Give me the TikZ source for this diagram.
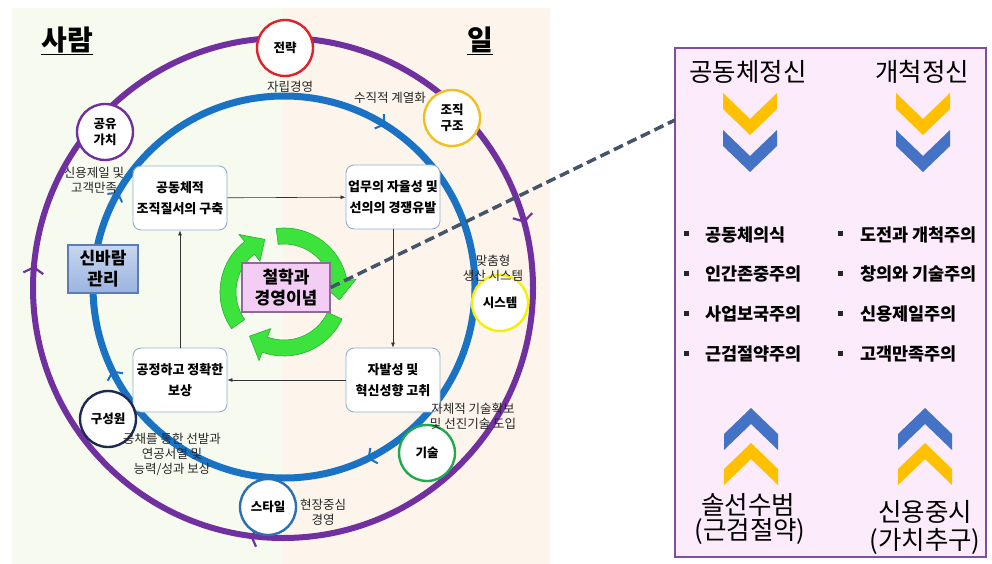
\documentclass[tikz,border=0pt]{standalone}
\usepackage{fontspec}
\setmainfont{Noto Sans CJK KR}
\usetikzlibrary{arrows.meta,decorations.markings}
\definecolor{bgleft}{HTML}{F7FBEF}
\definecolor{bgright}{HTML}{FDF5EB}
\definecolor{cpurple}{HTML}{7030A0}
\definecolor{cblue}{HTML}{1A72C4}
\definecolor{cred}{HTML}{E0202A}
\definecolor{cgold}{HTML}{F0C020}
\definecolor{cyel}{HTML}{F5F000}
\definecolor{cgrn}{HTML}{22A84E}
\definecolor{cnavy}{HTML}{1B2A55}
\definecolor{cstyle}{HTML}{2A6FB5}
\definecolor{boxline}{HTML}{8FB0CF}
\definecolor{gfill}{HTML}{3DE33D}
\definecolor{gdraw}{HTML}{27B02F}
\definecolor{dashc}{HTML}{44546A}
\definecolor{ppink}{HTML}{FCEBFB}
\definecolor{pborder}{HTML}{7F4F9F}
\definecolor{chyel}{HTML}{FFC000}
\definecolor{chblue}{HTML}{4472C4}
\definecolor{cboxfill}{HTML}{F3CDF3}
\definecolor{cboxline}{HTML}{8E6A99}
\definecolor{sbtop}{HTML}{C8D7F0}
\definecolor{sbbot}{HTML}{9AB3E0}
\definecolor{sbline}{HTML}{5D7CB3}
\newcommand\dchev[3]{\fill[#1] ({#2-27},{-#3}) -- (#2,{-#3-26}) -- ({#2+27},{-#3}) -- ({#2+27},{-#3-16}) -- (#2,{-#3-42}) -- ({#2-27},{-#3-16}) -- cycle;}
\newcommand\uchev[3]{\fill[#1] ({#2-27},{-#3}) -- ({#2-27},{-#3+16}) -- (#2,{-#3+42}) -- ({#2+27},{-#3+16}) -- ({#2+27},{-#3}) -- (#2,{-#3+26}) -- cycle;}
\begin{document}
\begin{tikzpicture}[x=1pt,y=1pt,
  sat/.style={circle, minimum size=56pt, inner sep=0pt, fill=white, line width=2.4pt, align=center, font=\bfseries\fontsize{12.5}{16}\selectfont},
  procbox/.style={draw=boxline, fill=white, rounded corners=8pt, line width=0.9pt, minimum width=94pt, minimum height=64pt, align=center, inner sep=0pt, font=\bfseries\fontsize{13}{21}\selectfont},
  conn/.style={-{Latex[length=5pt,width=4pt]}, line width=0.6pt, draw=black!80},
  lbl/.style={inner sep=0pt, align=center, text=black!85, font=\fontsize{12.5}{15}\selectfont},
  bul/.style={inner sep=0pt, anchor=west, font=\bfseries\fontsize{17.5}{20}\selectfont},
  big/.style={inner sep=0pt, align=center, font=\fontsize{25.5}{28}\selectfont}]
\useasboundingbox (0,0) rectangle (992,-564);
\fill[white] (0,0) rectangle (992,-564);
\fill[bgleft] (12,-8) rectangle (283,-564);
\fill[bgright] (283,-8) rectangle (550,-564);
% outer purple circle (clockwise)
\draw[cpurple, line width=6pt, postaction={decorate}, decoration={markings,
  mark=at position 0.271 with {\arrow[cpurple]{Straight Barb[length=6pt,width=20pt,line width=2.2pt]}},
  mark=at position 0.514 with {\arrow[cpurple]{Straight Barb[length=6pt,width=20pt,line width=2.2pt]}},
  mark=at position 0.958 with {\arrow[cpurple]{Straight Barb[length=6pt,width=20pt,line width=2.2pt]}}}]
  (533,-288) arc[start angle=0, end angle=-360, radius=250];
% inner blue circle (clockwise)
\draw[cblue, line width=7pt, postaction={decorate}, decoration={markings,
  mark=at position 0.178 with {\arrow[cblue]{Straight Barb[length=6pt,width=17pt,line width=2pt]}},
  mark=at position 0.428 with {\arrow[cblue]{Straight Barb[length=6pt,width=17pt,line width=2pt]}},
  mark=at position 0.583 with {\arrow[cblue]{Straight Barb[length=6pt,width=17pt,line width=2pt]}},
  mark=at position 0.839 with {\arrow[cblue]{Straight Barb[length=6pt,width=17pt,line width=2pt]}}}]
  (475,-287) arc[start angle=0, end angle=-360, radius=191];
% titles
\node[inner sep=0pt, font=\bfseries\fontsize{28}{30}\selectfont] (saram) at (67,-41) {\underline{사람}};
\node[inner sep=0pt, font=\bfseries\fontsize{28}{30}\selectfont] (il) at (480,-41) {\underline{일}};
% process boxes
\node[procbox] (b1) at (180,-198) {공동체적\\조직질서의 구축};
\node[procbox] (b2) at (393,-197) {업무의 자율성 및\\선의의 경쟁유발};
\node[procbox] (b3) at (180,-380) {공정하고 정확한\\보상};
\node[procbox] (b4) at (393,-380) {자발성 및\\혁신성향 고취};
\draw[conn] (b1) -- (b2);
\draw[conn] (b2) -- (b4);
\draw[conn] (b4) -- (b3);
\draw[conn] (b3) -- (b1);
% green circular arrows
\begin{scope}[shift={(284,-292)}]
\foreach \s/\e in {97/-8, -25/-128, -145/-250} {
  \pgfmathsetmacro\bb{\e+18}
  \filldraw[fill=gfill, draw=gdraw, line width=0.6pt] (\s:64) arc[start angle=\s, end angle=\bb, radius=64] -- (\bb:73) -- (\e:56) -- (\bb:39) -- (\bb:48) arc[start angle=\bb, end angle=\s, radius=48] -- cycle;
}
\end{scope}
% center box
\node[draw=cboxline, fill=cboxfill, line width=1.3pt, minimum width=88pt, minimum height=49pt, inner sep=0pt, align=center, font=\bfseries\fontsize{17}{21}\selectfont] (phil) at (286,-287.5) {철학과\\경영이념};
% sinbaram box
\node[draw=sbline, top color=sbtop, bottom color=sbbot, line width=2pt, minimum width=70pt, minimum height=48pt, inner sep=0pt, align=center, font=\bfseries\fontsize{17}{21}\selectfont] (sinbaram) at (103,-269) {신바람\\관리};
% right panel
\filldraw[fill=ppink, draw=pborder, line width=2pt] (675,-48) rectangle (986,-557);
\coordinate (dashend) at (675,-120);
\draw[dashc, line width=3.5pt, dash pattern=on 10pt off 5pt] (phil.east) -- (dashend);
% satellite circles
\node[sat, draw=cred] (s1) at (285,-48) {전략};
\node[sat, draw=cgold] (s2) at (452,-118) {조직\\구조};
\node[sat, draw=cpurple] (s3) at (105,-132) {공유\\가치};
\node[sat, draw=cyel] (s4) at (500,-303) {시스템};
\node[sat, draw=cgrn] (s5) at (427,-453) {기술};
\node[sat, draw=cstyle] (s6) at (268,-507) {스타일};
\node[sat, draw=cnavy] (s7) at (108,-419) {구성원};
% labels
\node[lbl] (l1) at (290,-87) {자립경영};
\node[lbl] (l2) at (390,-98) {수직적 계열화};
\node[lbl] (l3) at (94,-180) {신용제일 및\\고객만족};
\node[lbl] (l4) at (493,-268) {맞춤형\\생산 시스템};
\node[lbl] (l5) at (473,-416) {자체적 기술확보\\및 선진기술 도입};
\node[lbl] (l6) at (323,-512) {현장중심\\경영};
\node[lbl] (l7) at (172,-454) {공채를 통한 선발과\\연공서열 및\\능력/성과 보상};
% right panel content
\node[big] (t1) at (748,-72) {공동체정신};
\node[big] (t2) at (922,-72) {개척정신};
\dchev{chyel}{750}{93}
\dchev{chblue}{750}{130}
\dchev{chyel}{923}{93}
\dchev{chblue}{923}{130}
\uchev{chblue}{751}{450}
\uchev{chyel}{751}{485}
\uchev{chblue}{925}{450}
\uchev{chyel}{925}{485}
\foreach \yy in {233,273,313,353} {
  \fill[black!85] (683.5,{-\yy+2.5}) rectangle (688.5,{-\yy-2.5});
  \fill[black!85] (837.5,{-\yy+2.5}) rectangle (842.5,{-\yy-2.5});
}
\node[bul] (p1) at (705,-235) {공동체의식};
\node[bul] (p2) at (705,-274) {인간존중주의};
\node[bul] (p3) at (705,-314) {사업보국주의};
\node[bul] (p4) at (705,-354) {근검절약주의};
\node[bul] (q1) at (860,-235) {도전과 개척주의};
\node[bul] (q2) at (860,-274) {창의와 기술주의};
\node[bul] (q3) at (860,-314) {신용제일주의};
\node[bul] (q4) at (860,-354) {고객만족주의};
\node[big] (u1) at (748,-505) {솔선수범};
\node[big] (u2) at (750,-531) {(근검절약)};
\node[big] (v1) at (925,-512) {신용중시};
\node[big] (v2) at (925,-541) {(가치추구)};
\end{tikzpicture}
\end{document}
